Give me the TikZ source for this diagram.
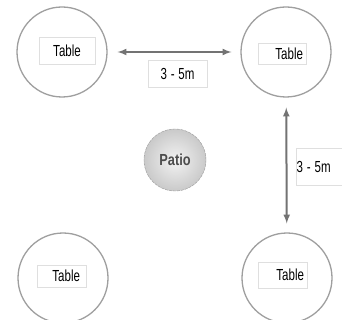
\documentclass[tikz,border=0pt]{standalone}
\usepackage{fontspec}
\setmainfont{Liberation Sans}
\newcommand{\narrow}[1]{\scalebox{0.72}[1]{#1}}
\begin{document}
\begin{tikzpicture}[x=1pt,y=-1pt]
\tikzset{table/.style={circle,draw=gray!75,line width=1.3pt,minimum size=90pt,inner sep=0pt},
tag/.style={draw=gray!25,fill=white,inner ysep=0pt,inner xsep=3pt,font=\fontsize{16}{18}\selectfont},
dist/.style={<->,>=latex,draw=black!55,line width=2pt,shorten <=10pt,shorten >=9pt}}
\useasboundingbox[fill=white](0,0) rectangle (342,320);
\node[table] (tl) at (62,52) {};
\node[table] (tr) at (286,52) {};
\node[table] (bl) at (63,278) {};
\node[table] (br) at (287,278) {};
\node[circle,draw=gray!80,dash pattern=on 3pt off 1pt,inner sep=0pt,minimum size=62pt,inner color=gray!10,outer color=gray!42,
  font=\fontsize{16}{18}\selectfont\bfseries,text=black!70] (patio) at (175,160) {\scalebox{0.8}[1]{Patio}};
% tags
\node[tag,text width=50pt,align=center,minimum height=27pt] (ttl) at (67,50.5) {\narrow{Table}};
\node[tag,text width=42pt,align=right,minimum height=21pt] (ttr) at (282,53.5) {\narrow{Table}};
\node[tag,text width=37pt,inner xsep=6pt,align=right,minimum height=22pt] (tbl) at (61.5,276) {\narrow{Table}};
\node[tag,text width=43pt,align=right,minimum height=26pt] (tbr) at (282.5,275) {\narrow{Table}};
% distances
\draw[dist] (tl) -- (tr);
\draw[dist] (tr) -- (br);
\node[tag,text width=53pt,align=center,minimum height=27pt] (dh) at (177.5,73.5) {\narrow{3 - 5m}};
\node[tag,text width=50pt,inner xsep=1pt,align=left,minimum height=37pt,anchor=west] (dv) at (295.5,166.5) {\narrow{3 - 5m}};
\end{tikzpicture}
\end{document}
